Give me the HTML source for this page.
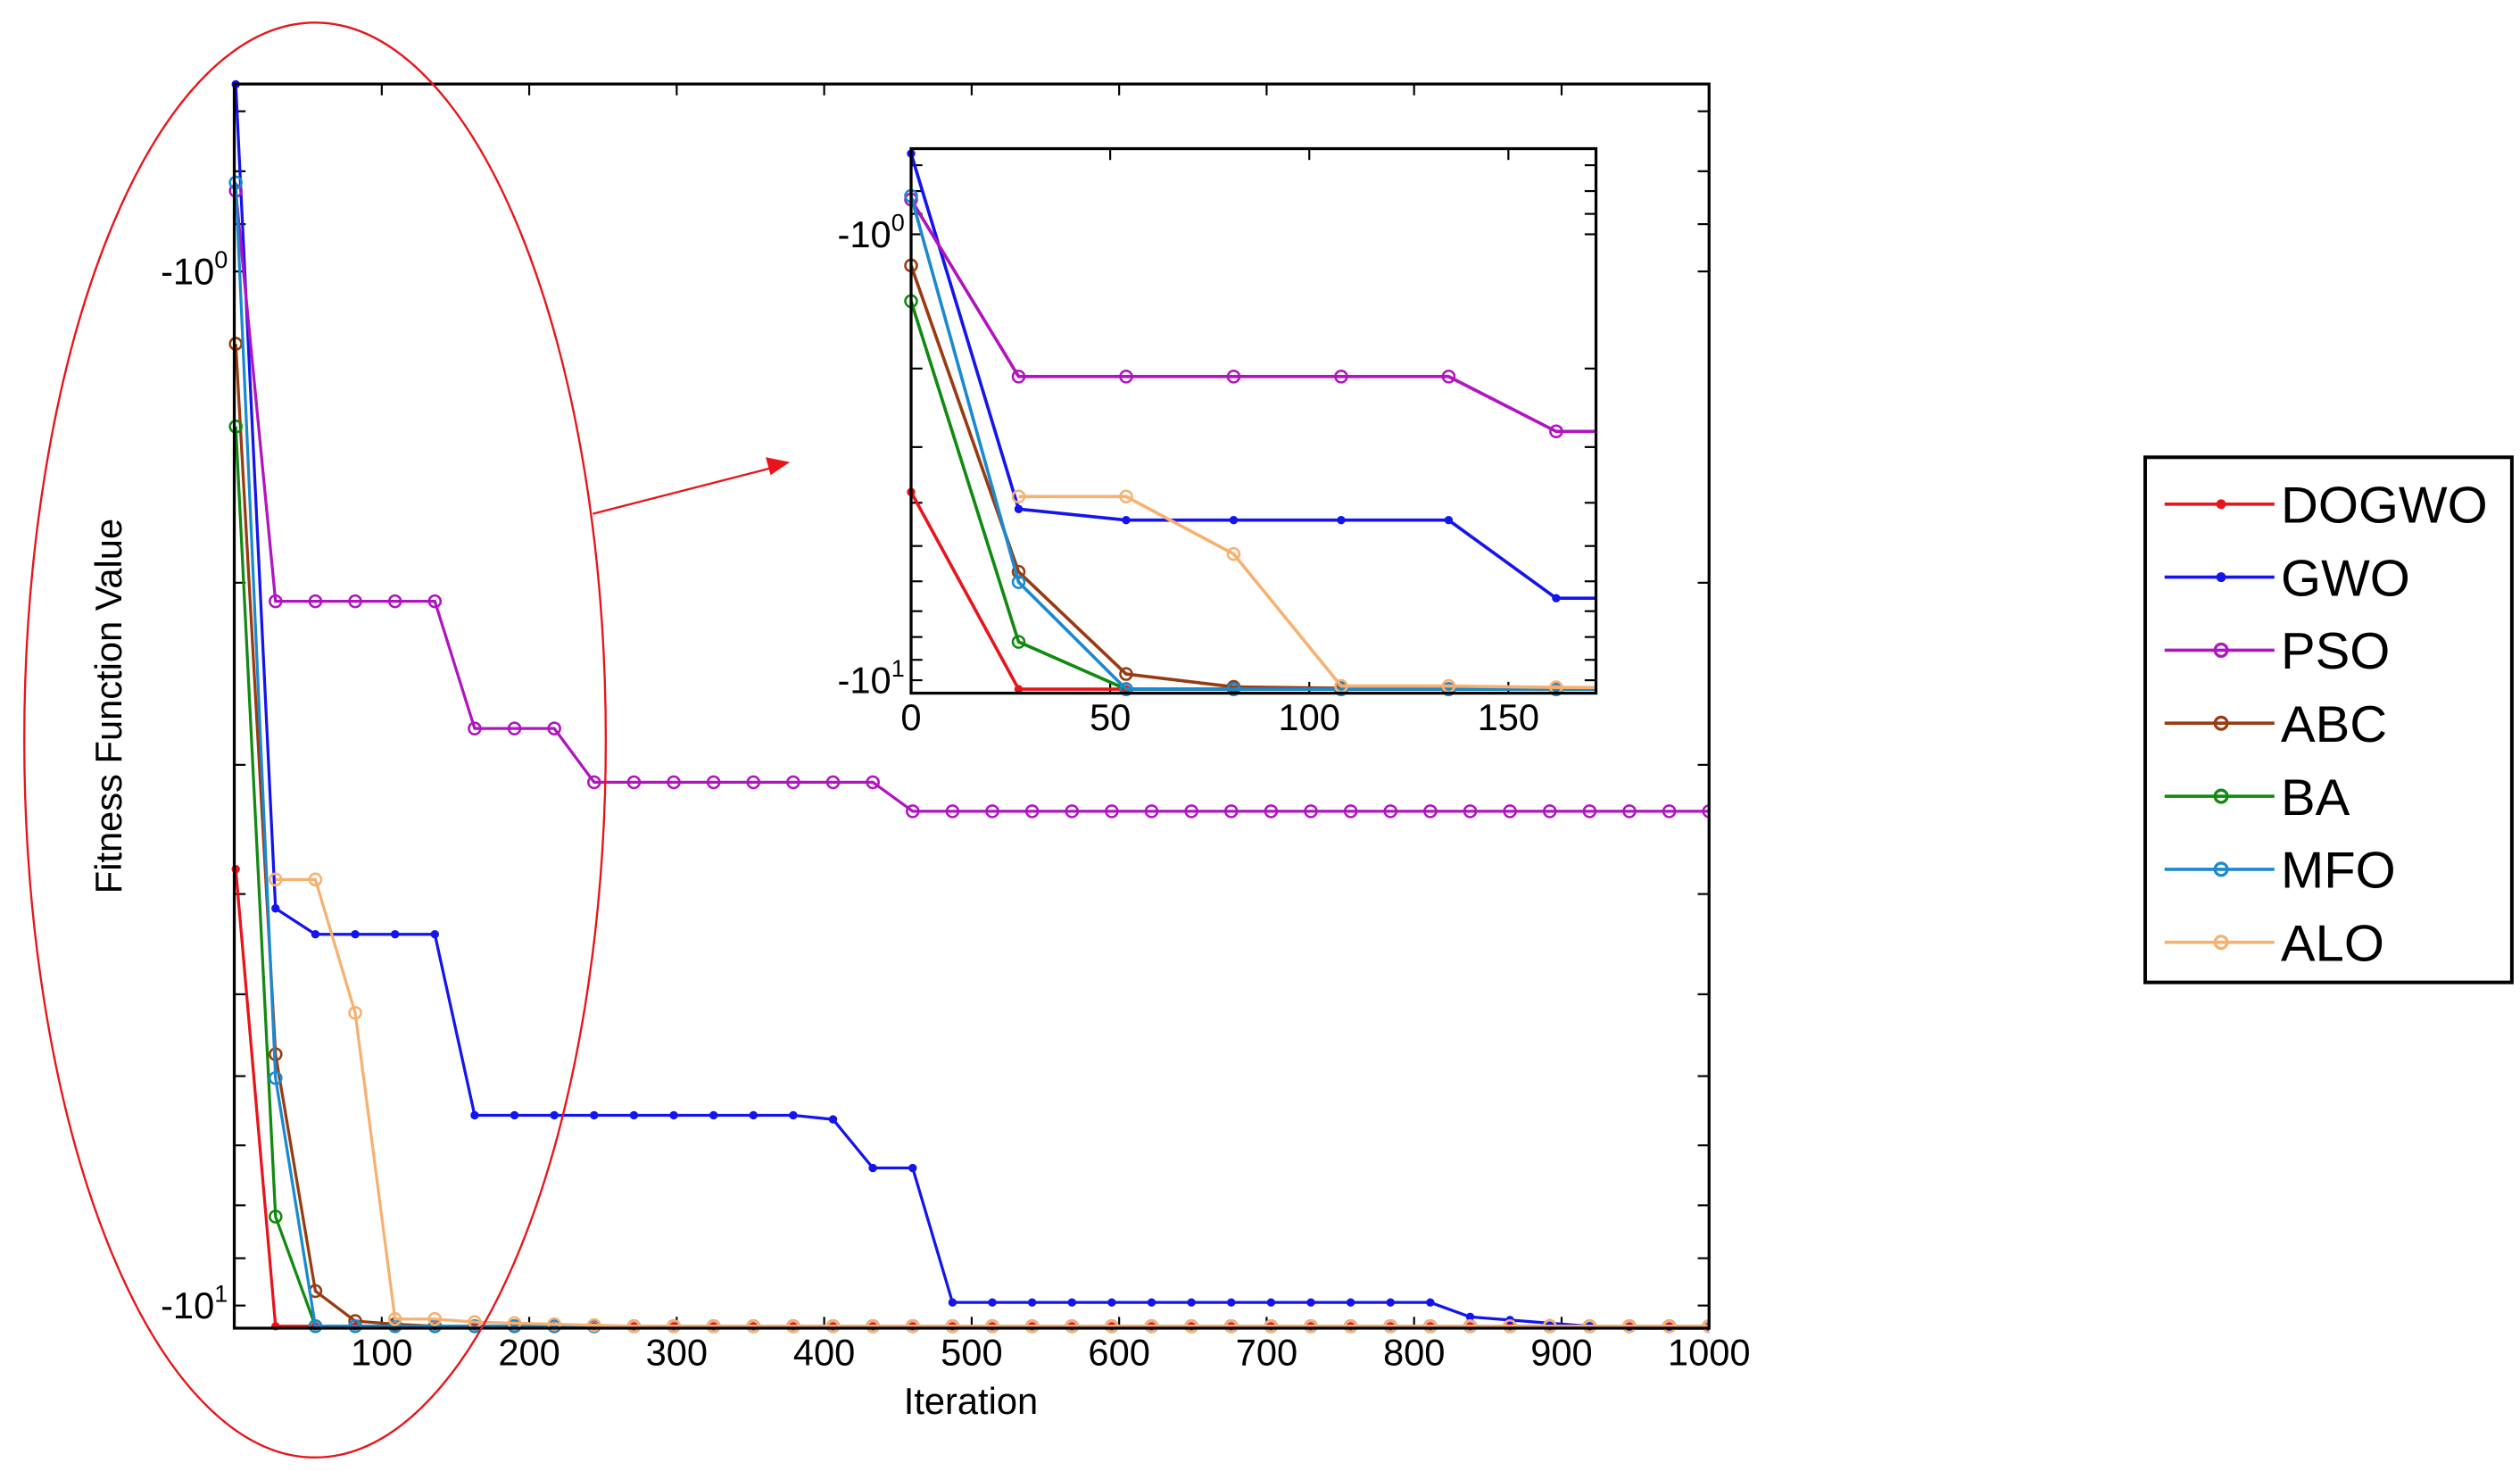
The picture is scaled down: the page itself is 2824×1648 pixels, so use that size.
<!DOCTYPE html>
<html><head><meta charset="utf-8"><style>
html,body{margin:0;padding:0;background:#fff;}
svg{display:block;font-family:"Liberation Sans",Arial,sans-serif;}
</style></head><body>
<svg id="chart" width="2824" height="1648" viewBox="0 0 1560 910.4" xmlns="http://www.w3.org/2000/svg">
<rect width="1560" height="910.4" fill="#fff"/>
<g id="main"></g>
<g id="inset"></g>
<ellipse cx="195" cy="458" rx="180" ry="444" fill="none" stroke="#e8141a" stroke-width="1.3"/>
<line x1="367" y1="318" x2="480" y2="289" stroke="#e8141a" stroke-width="1.3"/>
<polygon points="489,286 474,283 477,294" fill="#e8141a"/>
<text x="601" y="875" font-size="23" text-anchor="middle">Iteration</text>
<text transform="translate(75,437) rotate(-90)" font-size="23" text-anchor="middle">Fitness Function Value</text>
<g id="legend"></g>
</svg>
<script>
const seriesNames = ["DOGWO","GWO","PSO","ABC","BA","MFO","ALO"];
const seriesColors = ["#e8141a","#1414ee","#b014c0","#9a3a10","#108a10","#1a8ad0","#f8b070"];
const iterations = [1,28,55,82,109,136,163,190,217,244,271,298,325,352,379,406,433,460,487,514,541,568,595,622,649,676,703,730,757,784,811,838,865,892,919,946,973,1000];
// log10(|fitness|) values (fitness is negative); null = not plotted
const dogwo = [0.578,1.02,1.02,1.02,1.02,1.02,1.02,1.02,1.02,1.02,1.02,1.02,1.02,1.02,1.02,1.02,1.02,1.02,1.02,1.02,1.02,1.02,1.02,1.02,1.02,1.02,1.02,1.02,1.02,1.02,1.02,1.02,1.02,1.02,1.02,1.02,1.02,1.02];
const gwo = [-0.181,0.616,0.641,0.641,0.641,0.641,0.816,0.816,0.816,0.816,0.816,0.816,0.816,0.816,0.816,0.820,0.867,0.867,0.997,0.997,0.997,0.997,0.997,0.997,0.997,0.997,0.997,0.997,0.997,0.997,0.997,1.011,1.014,1.017,1.020,1.022,1.022,1.022];
const pso = [-0.078,0.319,0.319,0.319,0.319,0.319,0.442,0.442,0.442,0.494,0.494,0.494,0.494,0.494,0.494,0.494,0.494,0.522,0.522,0.522,0.522,0.522,0.522,0.522,0.522,0.522,0.522,0.522,0.522,0.522,0.522,0.522,0.522,0.522,0.522,0.522,0.522,0.522];
const abc = [0.070,0.757,0.986,1.015,1.018,1.02,1.02,1.02,1.02,1.02,1.02,1.02,1.02,1.02,1.02,1.02,1.02,1.02,1.02,1.02,1.02,1.02,1.02,1.02,1.02,1.02,1.02,1.02,1.02,1.02,1.02,1.02,1.02,1.02,1.02,1.02,1.02,1.02];
const ba = [0.150,0.914,1.02,1.02,1.02,1.02,1.02,1.02,1.02,1.02,1.02,1.02,1.02,1.02,1.02,1.02,1.02,1.02,1.02,1.02,1.02,1.02,1.02,1.02,1.02,1.02,1.02,1.02,1.02,1.02,1.02,1.02,1.02,1.02,1.02,1.02,1.02,1.02];
const mfo = [-0.086,0.780,1.02,1.02,1.02,1.02,1.02,1.02,1.02,1.02,1.02,1.02,1.02,1.02,1.02,1.02,1.02,1.02,1.02,1.02,1.02,1.02,1.02,1.02,1.02,1.02,1.02,1.02,1.02,1.02,1.02,1.02,1.02,1.02,1.02,1.02,1.02,1.02];
const alo = [null,0.588,0.588,0.717,1.013,1.013,1.016,1.017,1.018,1.019,1.02,1.02,1.02,1.02,1.02,1.02,1.02,1.02,1.02,1.02,1.02,1.02,1.02,1.02,1.02,1.02,1.02,1.02,1.02,1.02,1.02,1.02,1.02,1.02,1.02,1.02,1.02,1.02];
const mainXTicks = [100,200,300,400,500,600,700,800,900,1000];
const insetXTicks = [0,50,100,150];
const allSeries = [dogwo,gwo,pso,abc,ba,mfo,alo];
const markerKinds = ["dot","dot","circle","circle","circle","circle","circle"];

const NS = "http://www.w3.org/2000/svg";
function mk(tag, attrs, parent){const e=document.createElementNS(NS,tag);for(const k in attrs)e.setAttribute(k,attrs[k]);parent.appendChild(e);return e;}

function drawPanel(g, box, xMin, xMax, y0px, decadePx, xTicks, fs, insetMode, idPrefix){
  const xs = v => box.l + (v - xMin) / (xMax - xMin) * (box.r - box.l);
  const ys = L => y0px + L * decadePx;
  const clipId = idPrefix + "-clip";
  const defs = mk("defs", {}, g);
  const cp = mk("clipPath", {id: clipId}, defs);
  mk("rect", {x: box.l - 6, y: box.t - 6, width: box.r - box.l + 6, height: box.b - box.t + 12}, cp);
  for (let d = -1; d <= 1; d++) {
    for (let k = 1; k <= 9; k++) {
      const L = d + Math.log10(k);
      const y = ys(L);
      if (y < box.t + 1 || y > box.b - 1) continue;
      const len = 7;
      const t1 = mk("line", {x1: box.l, x2: box.l + len, y1: y, y2: y, stroke: "#000", "stroke-width": 1.2}, g);
      
      
      const t2 = mk("line", {x1: box.r, x2: box.r - len, y1: y, y2: y, stroke: "#000", "stroke-width": 1.2}, g);
      
      
      if (k === 1) {
        const tx = mk("text", {x: box.l - 6 - fs * 0.4, y: y + fs * 0.35, "font-size": fs, "text-anchor": "end"}, g);
        
        
        tx.textContent = "-10";
        const sup = mk("tspan", {dy: -fs * 0.45, "font-size": fs * 0.65}, tx);
        sup.textContent = String(d);
        tx.setAttribute("x", box.l - 4);
      }
    }
  }
  xTicks.forEach(v => {
    const x = xs(v);
    const a = mk("line", {x1: x, x2: x, y1: box.b, y2: box.b - 7, stroke: "#000", "stroke-width": 1.2}, g);
    
    
    const b = mk("line", {x1: x, x2: x, y1: box.t, y2: box.t + 7, stroke: "#000", "stroke-width": 1.2}, g);
    
    
    const t = mk("text", {x: x, y: box.b + fs * 1.0, "font-size": fs, "text-anchor": "middle"}, g);
    
    
    t.textContent = v;
  });
  const sg = mk("g", {"clip-path": "url(#" + clipId + ")"}, g);
  allSeries.forEach((ser, si) => {
    const pts = [];
    ser.forEach((L, i) => { if (L === null) return; const it = insetMode ? iterations[i] - 1 : iterations[i]; pts.push([xs(it), ys(L)]); });
    const pl = mk("polyline", {points: pts.map(p => p[0].toFixed(2) + "," + p[1].toFixed(2)).join(" "), fill: "none", stroke: seriesColors[si], "stroke-width": insetMode ? 2 : 1.8}, sg);
    
    
    pts.forEach(p => {
      if (p[0] > box.r + 3) return;
      let m;
      if (markerKinds[si] === "dot") m = mk("circle", {cx: p[0], cy: p[1], r: 2.6, fill: seriesColors[si]}, sg);
      else m = mk("circle", {cx: p[0], cy: p[1], r: 3.6, fill: "none", stroke: seriesColors[si], "stroke-width": 1.4}, sg);
      
      
    });
  });
  const fr = mk("rect", {x: box.l, y: box.t, width: box.r - box.l, height: box.b - box.t, fill: "none", stroke: "#000", "stroke-width": 1.8}, g);
  
  
}

const mainG = document.getElementById("main");
drawPanel(mainG, {l:145, r:1058, t:52, b:822}, 0, 1000, 168, 640, mainXTicks, 23, false, "main");
const insetG = document.getElementById("inset");
mk("rect", {x:564, y:92, width:424, height:337, fill:"#fff"}, insetG);
drawPanel(insetG, {l:564, r:988, t:92, b:429}, 0, 172, 145, 276, insetXTicks, 23, true, "inset");

const lg = document.getElementById("legend");
const frame = mk("rect", {x:1328, y:283, width:227, height:325, fill:"#fff", stroke:"#000", "stroke-width":2.2}, lg);


seriesNames.forEach((n, i) => {
  const y = 312 + i * 45.2;
  const eg = mk("g", {}, lg);
  
  
  mk("line", {x1:1340, x2:1408, y1:y, y2:y, stroke:seriesColors[i], "stroke-width":2}, eg);
  if (markerKinds[i] === "dot") mk("circle", {cx:1375, cy:y, r:3, fill:seriesColors[i]}, eg);
  else mk("circle", {cx:1375, cy:y, r:3.8, fill:"none", stroke:seriesColors[i], "stroke-width":1.8}, eg);
  const t = mk("text", {x:1412, y:y + 11.5, "font-size":32}, eg);
  t.textContent = n;
});
</script>
</body></html>
